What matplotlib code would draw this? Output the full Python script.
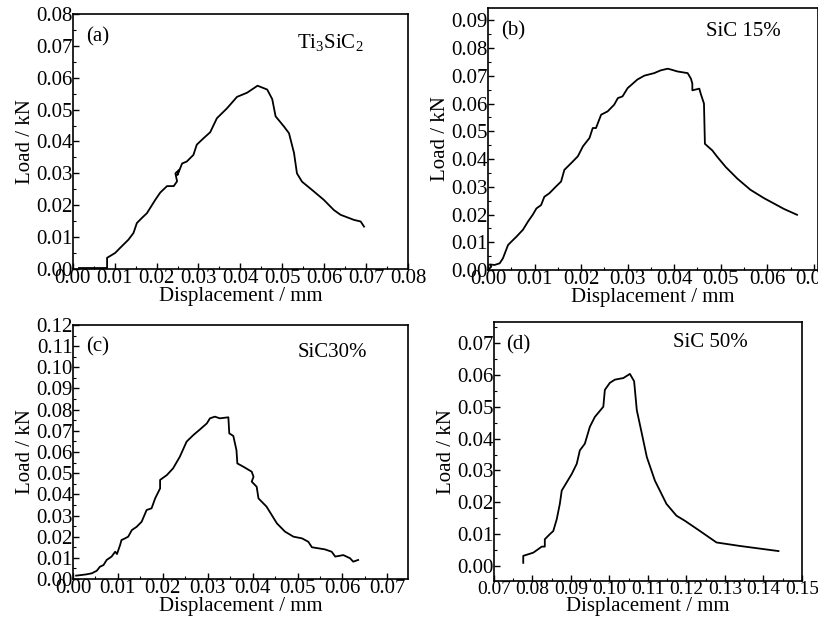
import numpy as np
import matplotlib
matplotlib.use("Agg")
import matplotlib.pyplot as plt
from matplotlib.ticker import MultipleLocator, FormatStrFormatter

plt.rcParams['font.family'] = ['Liberation Serif', 'DejaVu Serif']
plt.rcParams['mathtext.fontset'] = 'custom'
plt.rcParams['mathtext.rm'] = 'Liberation Serif'
plt.rcParams['mathtext.it'] = 'Liberation Serif:italic'

# (a) Ti3SiC2
disp_a = [0.0015, 0.0082, 0.0082, 0.0101, 0.0113, 0.0133, 0.0145, 0.0153, 0.0165, 0.0177,
          0.0197, 0.0209, 0.0225, 0.0241, 0.0249, 0.0245, 0.0253, 0.0250, 0.0261, 0.0272,
          0.0288, 0.0296, 0.0312, 0.0328, 0.0344, 0.0368, 0.0392, 0.0416, 0.0441, 0.0464,
          0.0476, 0.0484, 0.0504, 0.0516, 0.0528, 0.0535, 0.0547, 0.0571, 0.0599, 0.0623,
          0.0639, 0.0671, 0.0687, 0.0695]
load_a = [0.0003, 0.0003, 0.0035, 0.0050, 0.0066, 0.0092, 0.0113, 0.0144, 0.0160, 0.0175,
          0.0217, 0.0240, 0.0260, 0.0260, 0.0275, 0.0300, 0.0310, 0.0295, 0.0331, 0.0337,
          0.0358, 0.0390, 0.0410, 0.0429, 0.0473, 0.0504, 0.0540, 0.0553, 0.0575, 0.0563,
          0.0533, 0.0479, 0.0447, 0.0426, 0.0364, 0.0300, 0.0274, 0.0248, 0.0217, 0.0185,
          0.0170, 0.0154, 0.0149, 0.0133]

# (b) SiC 15%
disp_b = [0.0000, 0.0007, 0.0004, 0.0014, 0.0025, 0.0032, 0.0043, 0.0050, 0.0061, 0.0075,
          0.0086, 0.0096, 0.0104, 0.0114, 0.0121, 0.0132, 0.0146, 0.0157, 0.0164, 0.0179,
          0.0193, 0.0204, 0.0218, 0.0225, 0.0232, 0.0243, 0.0257, 0.0271, 0.0279, 0.0289,
          0.0300, 0.0321, 0.0336, 0.0357, 0.0371, 0.0386, 0.0393, 0.0407, 0.0418, 0.0429,
          0.0436, 0.0439, 0.0439, 0.0454, 0.0457, 0.0464, 0.0466, 0.0482, 0.0493, 0.0511,
          0.0536, 0.0564, 0.0593, 0.0614, 0.0636, 0.0664]
load_b = [0.0000, 0.0012, 0.0020, 0.0018, 0.0024, 0.0042, 0.0090, 0.0102, 0.0120, 0.0145,
          0.0175, 0.0199, 0.0222, 0.0234, 0.0264, 0.0277, 0.0301, 0.0319, 0.0361, 0.0386,
          0.0410, 0.0446, 0.0476, 0.0512, 0.0512, 0.0560, 0.0572, 0.0596, 0.0620, 0.0626,
          0.0656, 0.0687, 0.0701, 0.0710, 0.0720, 0.0726, 0.0723, 0.0716, 0.0713, 0.0710,
          0.0690, 0.0672, 0.0648, 0.0654, 0.0636, 0.0600, 0.0455, 0.0431, 0.0407, 0.0371,
          0.0329, 0.0289, 0.0259, 0.0240, 0.0220, 0.0199]

# (c) SiC 30%
disp_c = [0.0007, 0.0019, 0.0030, 0.0042, 0.0053, 0.0060, 0.0068, 0.0075, 0.0086, 0.0094,
          0.0098, 0.0105, 0.0108, 0.0116, 0.0123, 0.0131, 0.0142, 0.0153, 0.0164, 0.0175,
          0.0183, 0.0194, 0.0194, 0.0209, 0.0223, 0.0238, 0.0253, 0.0268, 0.0283, 0.0298,
          0.0305, 0.0316, 0.0327, 0.0346, 0.0348, 0.0357, 0.0364, 0.0366, 0.0379, 0.0398,
          0.0402, 0.0398, 0.0409, 0.0413, 0.0431, 0.0454, 0.0472, 0.0491, 0.0510, 0.0524,
          0.0532, 0.0561, 0.0576, 0.0584, 0.0602, 0.0617, 0.0624, 0.0635]
load_c = [0.0016, 0.0019, 0.0022, 0.0027, 0.0039, 0.0058, 0.0066, 0.0090, 0.0106, 0.0129,
          0.0118, 0.0161, 0.0184, 0.0192, 0.0200, 0.0231, 0.0247, 0.0271, 0.0326, 0.0334,
          0.0381, 0.0428, 0.0468, 0.0491, 0.0523, 0.0578, 0.0649, 0.0680, 0.0707, 0.0735,
          0.0759, 0.0767, 0.0759, 0.0764, 0.0688, 0.0676, 0.0609, 0.0546, 0.0531, 0.0507,
          0.0483, 0.0460, 0.0436, 0.0381, 0.0342, 0.0263, 0.0224, 0.0200, 0.0192, 0.0176,
          0.0150, 0.0140, 0.0129, 0.0106, 0.0113, 0.0098, 0.0082, 0.0090]

# (d) SiC 50%
disp_d = [0.0776, 0.0776, 0.0802, 0.0815, 0.0824, 0.0832, 0.0832, 0.0845, 0.0854, 0.0863,
          0.0871, 0.0876, 0.0889, 0.0902, 0.0915, 0.0923, 0.0936, 0.0949, 0.0962, 0.0984,
          0.0988, 0.1001, 0.1014, 0.1036, 0.1053, 0.1064, 0.1071, 0.1084, 0.1097, 0.1118,
          0.1148, 0.1174, 0.1196, 0.1235, 0.1278, 0.1339, 0.1439]
load_d = [0.0010, 0.0032, 0.0042, 0.0053, 0.0061, 0.0061, 0.0084, 0.0100, 0.0110, 0.0147,
          0.0195, 0.0237, 0.0263, 0.0289, 0.0321, 0.0363, 0.0384, 0.0437, 0.0468, 0.0500,
          0.0553, 0.0575, 0.0585, 0.0590, 0.0603, 0.0580, 0.0489, 0.0416, 0.0342, 0.0268,
          0.0195, 0.0158, 0.0142, 0.0110, 0.0074, 0.0063, 0.0047]

panels = [
    # x, y, axes rect, xlim, ylim, x step, y step, tag, label, label pos, x tick size
    (disp_a, load_a, [0.0889, 0.5717, 0.4099, 0.4060], (0, 0.08), (0, 0.08), 0.01, 0.01,
     '(a)', r'Ti$_3$SiC$_2$', (0.67, 0.89), 15),
    (disp_b, load_b, [0.5966, 0.5701, 0.4034, 0.4172], (0, 0.0709), (0, 0.0945), 0.01, 0.01,
     '(b)', 'SiC 15%', (0.66, 0.91), 15),
    (disp_c, load_c, [0.0892, 0.0780, 0.4096, 0.4045], (0, 0.0746), (0, 0.12), 0.01, 0.01,
     '(c)', 'SiC30%', (0.67, 0.89), 15),
    (disp_d, load_d, [0.6039, 0.0748, 0.3765, 0.4125], (0.07, 0.15), (-0.0047, 0.0766), 0.01, 0.01,
     '(d)', 'SiC 50%', (0.58, 0.92), 14),
]

fig = plt.figure(figsize=(8.18, 6.28), dpi=100)

for x, y, rect, xl, yl, xs, ys, tag, lab, lpos, xts in panels:
    ax = fig.add_axes(rect)
    ax.plot(x, y, color='black', lw=1.3)
    ax.set_xlim(*xl)
    ax.set_ylim(*yl)
    ax.xaxis.set_major_locator(MultipleLocator(xs))
    ax.yaxis.set_major_locator(MultipleLocator(ys))
    ax.xaxis.set_minor_locator(MultipleLocator(xs / 2))
    ax.yaxis.set_minor_locator(MultipleLocator(ys / 2))
    ax.xaxis.set_major_formatter(FormatStrFormatter('%.2f'))
    ax.yaxis.set_major_formatter(FormatStrFormatter('%.2f'))
    ax.tick_params(which='major', direction='in', length=4, width=1, labelsize=15, pad=0)
    ax.tick_params(axis='x', labelsize=xts)
    ax.tick_params(which='minor', direction='in', length=2, width=0.8)
    for s in ax.spines.values():
        s.set_linewidth(1.2)
    ax.set_xlabel('Displacement / mm', fontsize=15, labelpad=-1)
    ax.set_ylabel('Load / kN', fontsize=15, labelpad=1)
    ax.text(0.04, 0.95, tag, transform=ax.transAxes, fontsize=15, va='top', ha='left')
    ax.text(lpos[0], lpos[1], lab, transform=ax.transAxes, fontsize=15, va='center', ha='left')

fig.savefig('out.png', dpi=100)
